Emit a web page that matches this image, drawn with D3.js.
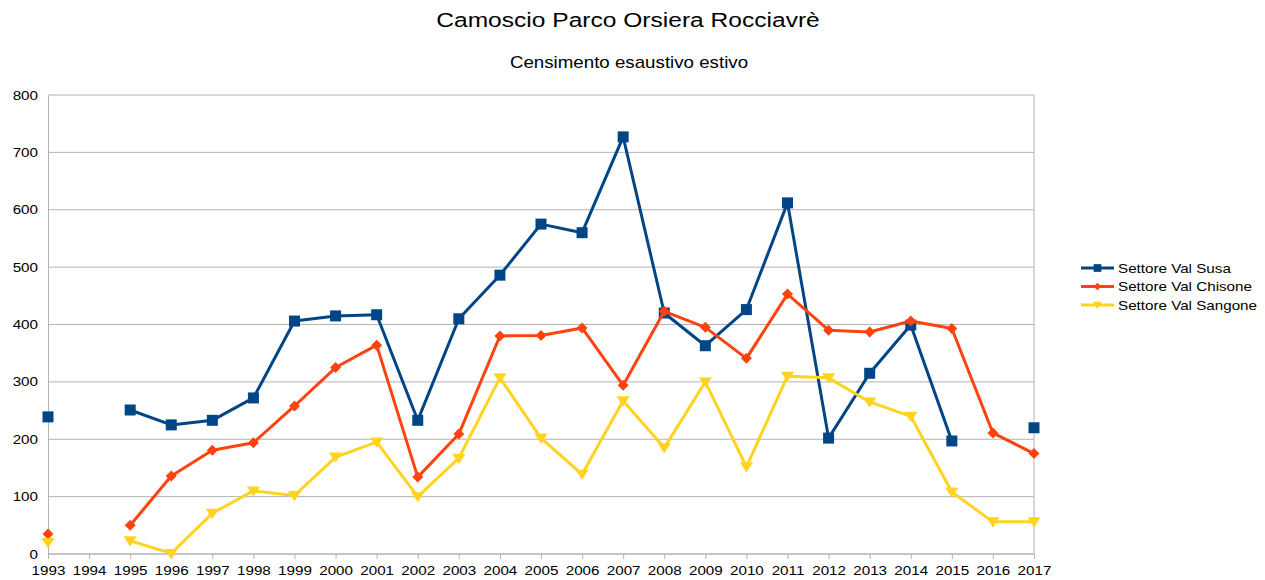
<!DOCTYPE html>
<html><head><meta charset="utf-8">
<script src="https://cdn.jsdelivr.net/npm/d3@7"></script>
<style>body{margin:0;background:#fff;} svg{display:block;font-family:"Liberation Sans",Arial,sans-serif;}</style>
</head><body>
<svg id="chart" width="1265" height="580"></svg>
<script>
const years = ["1993","1994","1995","1996","1997","1998","1999","2000","2001","2002","2003","2004","2005","2006","2007","2008","2009","2010","2011","2012","2013","2014","2015","2016","2017"];
const susa = [239,null,251,225,233,272,406,415,417,233,410,486,575,560,727,420,363,426,612,202,315,399,197,null,220];
const chisone = [35,null,50,136,181,194,258,325,364,134,209,380,381,394,294,423,395,341,453,390,387,406,393,211,175];
const sangone = [20,null,23,1,71,110,102,169,195,100,167,307,202,139,267,185,300,152,310,307,265,240,108,56,56];
const yTicks = [0,100,200,300,400,500,600,700,800];
const seriesNames = ["Settore Val Susa","Settore Val Chisone","Settore Val Sangone"];
const colors = ["#004586","#ff420e","#ffd320"];
const title = "Camoscio Parco Orsiera Rocciavrè";
const subtitle = "Censimento esaustivo estivo";

const SX = 1.17;
const svg = d3.select("#chart");
const L=48, R=1034, T=95, B=554;
const x = d3.scalePoint().domain(years).range([L,R]);
const y = d3.scaleLinear().domain([0,800]).range([B,T]);

function stext(g, tx, ty, str, size, anchor){
  return g.append("text").attr("transform",`translate(${tx},${ty}) scale(${SX},1)`)
    .attr("text-anchor",anchor).attr("font-size",size).attr("fill","#000").text(str);
}

stext(svg, 628, 27, title, 21, "middle");
stext(svg, 629, 68, subtitle, 16, "middle");

// grid
svg.append("g").selectAll("line").data(yTicks).join("line")
  .attr("x1",L).attr("x2",R).attr("y1",d=>y(d)).attr("y2",d=>y(d))
  .attr("stroke","#b3b3b3").attr("stroke-width",1);
svg.append("line").attr("x1",R).attr("x2",R).attr("y1",T).attr("y2",B).attr("stroke","#b3b3b3");

// y axis
const ya = svg.append("g").attr("transform",`translate(${L},0)`).call(d3.axisLeft(y).tickValues(yTicks).tickSize(0).tickPadding(10));
ya.select(".domain").attr("stroke","#b3b3b3");
ya.selectAll(".tick text").each(function(){
  const t = d3.select(this);
  t.attr("x",null).attr("dy",null).attr("transform",`translate(-10,4) scale(${SX},1)`)
   .attr("font-size",13).attr("fill","#000").attr("font-family","Liberation Sans, Arial, sans-serif");
});

// x axis
const xa = svg.append("g").attr("transform",`translate(0,${B})`).call(d3.axisBottom(x).tickSize(5));
xa.select(".domain").attr("stroke","#b3b3b3").attr("d",`M${L},0H${R}`);
xa.selectAll(".tick line").attr("stroke","#b3b3b3");
xa.selectAll(".tick text").each(function(){
  d3.select(this).attr("y",null).attr("dy",null).attr("transform",`translate(0,21) scale(${SX},1)`)
   .attr("font-size",13).attr("fill","#000").attr("font-family","Liberation Sans, Arial, sans-serif");
});

const data = [susa,chisone,sangone];
const square = s => `M${-s},${-s}H${s}V${s}H${-s}Z`;
const diamond = s => `M0,${-s}L${s},0L0,${s}L${-s},0Z`;
const triDown = s => `M${-s*1.1},${-s*0.75}H${s*1.1}L0,${s*0.95}Z`;
const shapes = [square, diamond, triDown];
const msz = [5.5, 5.5, 6];

data.forEach((vals,i)=>{
  const pts = years.map((yr,j)=>({yr,v:vals[j]}));
  const line = d3.line().defined(d=>d.v!==null).x(d=>x(d.yr)).y(d=>y(d.v));
  svg.append("path").datum(pts).attr("d",line).attr("fill","none").attr("stroke",colors[i]).attr("stroke-width",3).attr("stroke-linejoin","round");
  svg.append("g").selectAll("path").data(pts.filter(d=>d.v!==null)).join("path")
    .attr("d",shapes[i](msz[i]))
    .attr("transform",d=>`translate(${x(d.yr)},${y(d.v)})`)
    .attr("fill",colors[i]);
});

// legend
const lg = svg.append("g");
seriesNames.forEach((n,i)=>{
  const ly = 268 + i*18.5;
  lg.append("line").attr("x1",1081).attr("x2",1114).attr("y1",ly).attr("y2",ly).attr("stroke",colors[i]).attr("stroke-width",3);
  lg.append("path").attr("d",shapes[i](msz[i]*0.7))
    .attr("transform",`translate(1097.5,${ly})`).attr("fill",colors[i]);
  stext(lg, 1118, ly+4.5, n, 13, "start");
});
</script>
</body></html>
